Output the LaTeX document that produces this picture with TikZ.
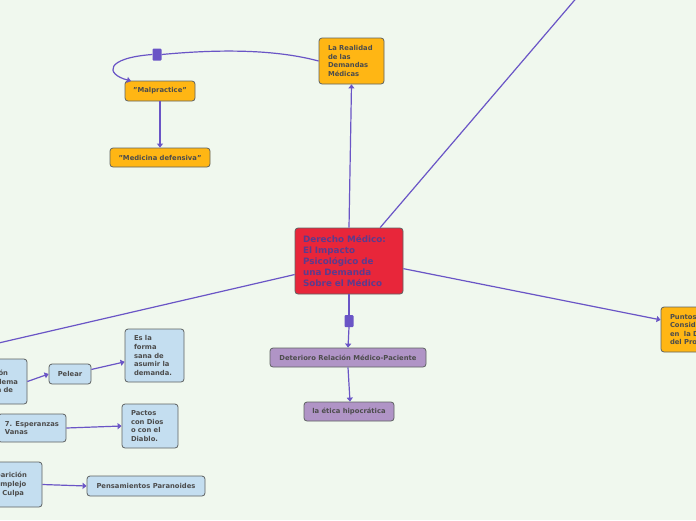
\documentclass[tikz,border=0pt]{standalone}
\usepackage{fontspec}
\setmainfont{DejaVu Sans}
\usetikzlibrary{arrows.meta}
\definecolor{bgc}{HTML}{F0F8EE}
\definecolor{redc}{HTML}{E8263A}
\definecolor{orc}{HTML}{FFB614}
\definecolor{purc}{HTML}{B094C6}
\definecolor{bluec}{HTML}{C4DEF0}
\definecolor{bordc}{HTML}{5E6262}
\definecolor{txtc}{HTML}{4C4C4C}
\definecolor{ctxt}{HTML}{5C3B8E}
\definecolor{lnc}{HTML}{6A55C6}
\begin{document}
\begin{tikzpicture}[x=1pt,y=-1pt,
  box/.style={draw=bordc, line width=0.8pt, rounded corners=3pt, inner sep=0pt,
    font=\fontsize{6.8}{8.6}\selectfont\bfseries, text=txtc},
  conn/.style={draw=lnc, line width=1.2pt, -{Triangle[length=4pt,width=6pt]}},
  plain/.style={draw=lnc, line width=1.2pt},
  sqm/.style={fill=lnc, draw=none, rounded corners=1pt, minimum width=9pt, minimum height=12pt, inner sep=0pt}]
\useasboundingbox (0,0) rectangle (696,520);
\clip (0,0) rectangle (696,520);
\fill[bgc] (0,0) rectangle (696,520);

% nodes
\node[box, fill=redc, text=ctxt, minimum width=108pt, minimum height=66pt, text width=92pt, align=left,
  font=\fontsize{8.8}{11}\selectfont\bfseries] (center) at (349,261)
  {Derecho Médico:\\El Impacto\\Psicológico de\\una Demanda\\Sobre el Médico};
\node[box, fill=orc, minimum width=65pt, minimum height=46pt, text width=47pt, align=left] (realidad) at (351.5,61)
  {La Realidad\\de las\\Demandas\\Médicas};
\node[box, fill=orc, minimum width=70pt, minimum height=20pt] (malp) at (160,91) {"Malpractice"};
\node[box, fill=orc, minimum width=100pt, minimum height=19pt] (medi) at (160,157.5) {"Medicina defensiva"};
\node[box, fill=purc, minimum width=156pt, minimum height=19pt] (deter) at (348,357.5) {Deterioro Relación Médico-Paciente};
\node[box, fill=purc, minimum width=90pt, minimum height=19pt] (etica) at (349,411.5) {la ética hipocrática};
\node[box, fill=orc, minimum width=90pt, minimum height=45pt, text width=72pt, align=left] (puntos) at (706,329.5)
  {Puntos a\\Considerar\\en\ \ la Defensa\\del Proceso};
\node[box, fill=bluec, minimum width=63.6pt, minimum height=45pt, text width=45.6pt, align=left] (left1) at (-4.8,381.5)
  {Negación\\el problema\\a causa de};
\node[box, fill=bluec, minimum width=42pt, minimum height=20pt] (pelear) at (70,374) {Pelear};
\node[box, fill=bluec, minimum width=59pt, minimum height=53pt, text width=41pt, align=left] (esla) at (154.5,355.5)
  {Es la\\forma\\sana de\\asumir la\\demanda.};
\node[box, fill=bluec, minimum width=68pt, minimum height=28pt, align=left] (left2) at (32,428)
  {7. Esperanzas\\Vanas};
\node[box, fill=bluec, minimum width=56pt, minimum height=44pt, text width=38pt, align=left] (pactos) at (150,426)
  {Pactos\\con Dios\\o con el\\Diablo.};
\node[box, fill=bluec, minimum width=60.3pt, minimum height=45pt, text width=42.3pt, align=left] (left3) at (11.85,484.5)
  {Aparición\\Complejo\\de Culpa};
\node[box, fill=bluec, minimum width=118pt, minimum height=20pt] (paran) at (146,486) {Pensamientos Paranoides};

\node[sqm] (sq1) at (157,54.5) {};
\node[sqm] (sq2) at (349,321) {};
\coordinate (tr) at (579,-5);
\coordinate (lf) at (-10,345);

% connectors
\draw[conn] (center.north) -- (realidad.south);
\draw[plain] (center.47) -- (tr);
\draw[plain] (center.194) -- (lf);
\draw[conn] (center.-8) -- (puntos.168);
\draw[plain] (center.south) -- (sq2.north);
\draw[conn] (sq2.south) -- (deter.north);
\draw[conn] (deter.south) -- ([xshift=1pt]etica.north);
\draw[plain] (realidad.west) .. controls (270,48) and (210,50) .. (sq1.east);
\draw[conn] (sq1.west) .. controls (105,58) and (105,74) .. (131,81);
\draw[conn] (malp.south) -- (medi.north);
\draw[conn] (left1.east) -- (pelear.west);
\draw[conn] (pelear.12) -- (esla.192);
\draw[conn] (left2.east) -- (pactos.west);
\draw[conn] (left3.east) -- (paran.west);
\end{tikzpicture}
\end{document}
